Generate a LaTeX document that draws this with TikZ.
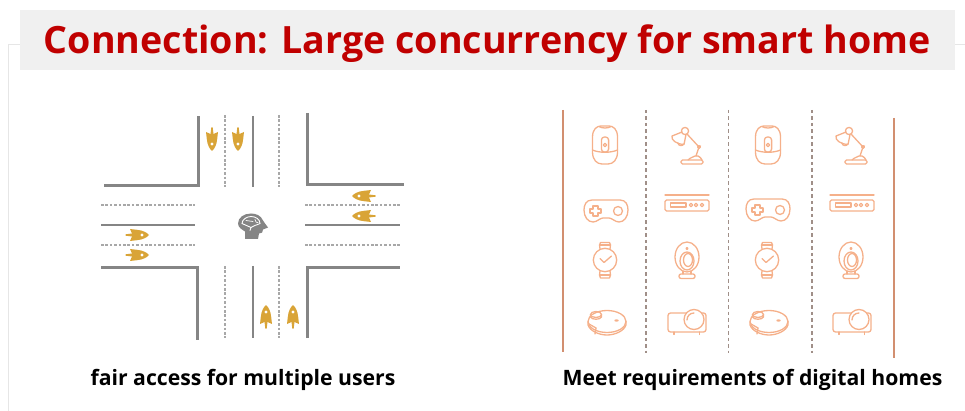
\documentclass[tikz,border=0pt]{standalone}
\usepackage{fontspec}
\setmainfont{Open Sans}
\definecolor{titlered}{HTML}{C00000}
\definecolor{titlegray}{HTML}{F0F0F0}
\definecolor{framegray}{HTML}{E6E6E6}
\definecolor{roadgray}{HTML}{858585}
\definecolor{lanegray}{HTML}{A8A8A8}
\definecolor{rocketgold}{HTML}{D9A437}
\definecolor{iconorange}{HTML}{F5B08A}
\definecolor{railbrown}{HTML}{D28F70}
\definecolor{sepgray}{HTML}{A08F88}
\tikzset{
  curb/.style={draw=roadgray,line width=3pt},
  midline/.style={draw=roadgray,line width=1.5pt},
  laneline/.style={draw=lanegray,line width=1.3pt,dash pattern=on 2.6pt off 1.8pt},
  rail/.style={draw=railbrown,line width=1.8pt},
  sepline/.style={draw=sepgray,line width=1.1pt,dash pattern=on 3.5pt off 3pt},
  icon/.style={draw=iconorange,line width=1.3pt,line join=round,line cap=round},
  caption/.style={font=\fontsize{21.2}{26}\selectfont\bfseries,inner sep=0pt},
  rocket/.pic={
    \fill[rocketgold] (12,0) .. controls (10,-2.5) and (6,-4.6) .. (0,-5.2) -- (-7,-6) -- (-5,-1.5) -- (-11.5,-.7) -- (-11.5,.7) -- (-5,1.5) -- (-7,6) -- (0,5.2) .. controls (6,4.6) and (10,2.5) .. (12,0) -- cycle;
    \fill[white] (5,0) circle[radius=1.6];
  },
  speaker/.pic={
    \draw[icon] (-12.5,-8) .. controls (-12.5,-16) and (-8,-19) .. (-4,-19) -- (4,-19) .. controls (8,-19) and (12.5,-16) .. (12.5,-8) -- (12.5,7) .. controls (12.5,15) and (8,19) .. (3,19) -- (-3,19) .. controls (-8,19) and (-12.5,15) .. (-12.5,7) -- cycle;
    \draw[icon] (-12.5,5) .. controls (-6,8) and (6,8) .. (12.5,5);
    \draw[icon] (-6,-18.5) .. controls (-3,-16.5) and (3,-16.5) .. (6,-18.5);
    \draw[icon,rounded corners=3pt] (-3.6,-8) rectangle (3.6,7);
    \draw[icon] (0,0) circle[radius=1.7];
  },
  lamp/.pic={
    \draw[icon,rounded corners=1.5pt] (-6,15) rectangle (16,19);
    \draw[icon] (1,15) .. controls (4,12) and (7,12) .. (8,11) -- (11,11) .. controls (12,12) and (15,13) .. (15,15);
    \draw[icon] (9,11) -- (12,2) -- (0,-11);
    \draw[icon] (12,2) -- (13.5,1);
    \draw[icon] (12,2) circle[radius=1.5];
    \draw[icon] (-2,-14) circle[radius=3.6];
    \draw[icon] (-5,-13) -- (-15,-9) .. controls (-16,-5) and (-11,-1) .. (-3,-.5) -- (-1,-10.5);
    \draw[icon] (-9,-2) .. controls (-9,1) and (-4,1.5) .. (-3.5,-1);
  },
  gamepad/.pic={
    \draw[icon] (-14,-11) -- (14,-11) .. controls (20,-11) and (22,-6) .. (22,-1) .. controls (22,6) and (18,11) .. (13,11) .. controls (9,11) and (6,7) .. (3,7) -- (-3,7) .. controls (-6,7) and (-9,11) .. (-13,11) .. controls (-18,11) and (-22,6) .. (-22,-1) .. controls (-22,-6) and (-20,-11) .. (-14,-11) -- cycle;
    \draw[icon] (-13,-5) -- (-8,-5) -- (-8,-2) -- (-5,-2) -- (-5,2) -- (-8,2) -- (-8,5) -- (-13,5) -- (-13,2) -- (-16,2) -- (-16,-2) -- (-13,-2) -- cycle;
    \draw[icon] (12,0) circle[radius=4.5];
  },
  settopbox/.pic={
    \draw[icon] (-22,-8) -- (22,-8);
    \draw[icon,rounded corners=1.5pt] (-22,-3) rectangle (22,8);
    \draw[icon] (-16.5,0) rectangle (-1,4);
    \draw[icon] (4,2) circle[radius=1.7];
    \draw[icon] (9,2) circle[radius=1.7];
    \draw[icon] (15,2) circle[radius=1.7];
  },
  watch/.pic={
    \draw[icon] (0,0) circle[radius=11.7];
    \draw[icon] (-5,-11) -- (-5.5,-15) -- (-4.5,-17.5) -- (4.5,-17.5) -- (5.5,-15) -- (5,-11);
    \draw[icon] (-5.5,-15) -- (5.5,-15);
    \draw[icon] (-5,11) -- (-5.5,15) -- (-4.5,18) -- (4.5,18) -- (5.5,15) -- (5,11);
    \draw[icon] (-5.5,15) -- (5.5,15);
    \draw[icon] (-5,-1.5) -- (-1,2.5) -- (6.5,-4);
  },
  webcam/.pic={
    \draw[icon] (0,-3) ellipse[x radius=12,y radius=15];
    \draw[icon] (0,1) ellipse[x radius=7,y radius=9];
    \draw[icon] (1,0) ellipse[x radius=4.5,y radius=6.5];
    \draw[icon] (0,-11.5) circle[radius=1];
    \draw[icon] (-4,11) -- (-4,14) (4,11) -- (4,14);
    \draw[icon,rounded corners=2pt] (-8,14) rectangle (8,18.5);
  },
  robotvac/.pic={
    \draw[icon] (0,-.5) ellipse[x radius=19,y radius=11];
    \draw[icon] (-19,0) -- (-19,3) .. controls (-17,9) and (-8,13) .. (0,13) .. controls (8,13) and (17,9) .. (19,3) -- (19,-.5);
    \fill[white] (-16.5,-7.5) rectangle (-5.5,-4);
    \draw[icon] (-11,-7.5) ellipse[x radius=5.5,y radius=3];
    \draw[icon] (-16.5,-7.5) -- (-16.5,-5) .. controls (-15,-2) and (-7,-2) .. (-5.5,-5) -- (-5.5,-7.5);
    \draw[icon] (-11,6) -- (-12,12);
    \draw[icon] (-11,6) -- (-18,2);
    \fill[iconorange] (9.5,-1.5) ellipse[x radius=2.2,y radius=1.2];
  },
  projector/.pic={
    \draw[icon,rounded corners=2.5pt] (-19,-9) rectangle (19,10);
    \fill[white] (7,-2.5) circle[radius=10];
    \draw[icon] (7,-2.5) circle[radius=10];
    \draw[icon] (0,-2) .. controls (0,-6) and (3,-9) .. (7,-9);
    \draw[icon] (-13,10) -- (-13,12.5) (12.5,10) -- (12.5,12.5);
  },
  brainhead/.pic={
    \fill[roadgray] (-8,12.5) -- (5,12.5) -- (6,7) .. controls (9,7) and (10,6) .. (10,3) -- (15,1) .. controls (13,-2) and (11,-4) .. (10,-6) .. controls (8,-11) and (3,-13) .. (-2,-13) .. controls (-9,-13) and (-15,-9) .. (-15,-3) .. controls (-15,1) and (-11,3) .. (-8,5) -- cycle;
    \draw[white,line width=.9pt,line cap=round] (-11,-3) .. controls (-11,-7) and (-6,-10) .. (-2,-10) .. controls (3,-10) and (7,-7) .. (7,-3) .. controls (3,-1) and (0,-1) .. (-2,1);
    \draw[white,line width=.9pt,line cap=round] (-11,-3) .. controls (-8,-1) and (-5,-1) .. (-2,1) -- (-3,4);
    \draw[white,line width=.7pt,line cap=round] (-7,-6) .. controls (-4,-7) and (-3,-4) .. (0,-5) (2,-7) .. controls (2,-4) and (4,-4) .. (5,-4);
  }
}
\begin{document}
\begin{tikzpicture}[x=1pt,y=-1pt]
\useasboundingbox (0,0) rectangle (965,411);

\draw[framegray,line width=1pt] (8.5,411) -- (8.5,44.5) -- (20,44.5);
\draw[framegray,line width=1pt] (955,44.5) -- (965,44.5);
\fill[titlegray] (20,10) rectangle (955,70);
\node[text=titlered,font=\fontsize{37.6}{46}\selectfont\bfseries,inner sep=0pt] (title) at (487.5,44) {Connection: Large concurrency for smart home};

\draw[curb] (104,186) -- (198,186) -- (198,116);
\draw[curb] (307,113) -- (307,185) -- (404,185);
\draw[curb] (101,268) -- (197,268) -- (197,340);
\draw[curb] (307,338) -- (307,268) -- (400,268);

\draw[midline] (253,116) -- (253,187);
\draw[midline] (253,266) -- (253,338);
\draw[midline] (101,225) -- (195,225);
\draw[midline] (305,225) -- (400,225);

\draw[laneline] (225,115) -- (225,187);
\draw[laneline] (279,115) -- (279,187);
\draw[laneline] (225,266) -- (225,338);
\draw[laneline] (279,266) -- (279,338);
\draw[laneline] (101,205) -- (195,205);
\draw[laneline] (101,245) -- (195,245);
\draw[laneline] (305,205) -- (400,205);
\draw[laneline] (305,245) -- (400,245);

\pic[rotate=-90] at (212,139) {rocket};
\pic[rotate=-90] at (238,139) {rocket};
\pic[rotate=90] at (266,317) {rocket};
\pic[rotate=90] at (293,317) {rocket};
\pic at (137,235) {rocket};
\pic at (137,255) {rocket};
\pic[rotate=180] at (364,196) {rocket};
\pic[rotate=180] at (364,216) {rocket};
\pic at (253,226.5) {brainhead};

\draw[rail] (563,110) -- (563,352);
\draw[rail] (894,118) -- (894,358);
\draw[sepline] (646,110) -- (646,353);
\draw[sepline] (728.5,110) -- (728.5,353);
\draw[sepline] (812,110) -- (812,353);

\pic at (605,145) {speaker};
\pic at (687,145) {lamp};
\pic at (768,145) {speaker};
\pic at (851,145) {lamp};
\pic at (606,211) {gamepad};
\pic at (687,203) {settopbox};
\pic at (768,210) {gamepad};
\pic at (852,203) {settopbox};
\pic at (605,260) {watch};
\pic at (687,260) {webcam};
\pic at (767,260) {watch};
\pic at (851,260) {webcam};
\pic at (607,322) {robotvac};
\pic at (687,322) {projector};
\pic at (769,322) {robotvac};
\pic at (852,322) {projector};

\node[caption] (leftcap) at (243,380) {fair access for multiple users};
\node[caption] (rightcap) at (752.5,379.5) {Meet requirements of digital homes};
\end{tikzpicture}
\end{document}
